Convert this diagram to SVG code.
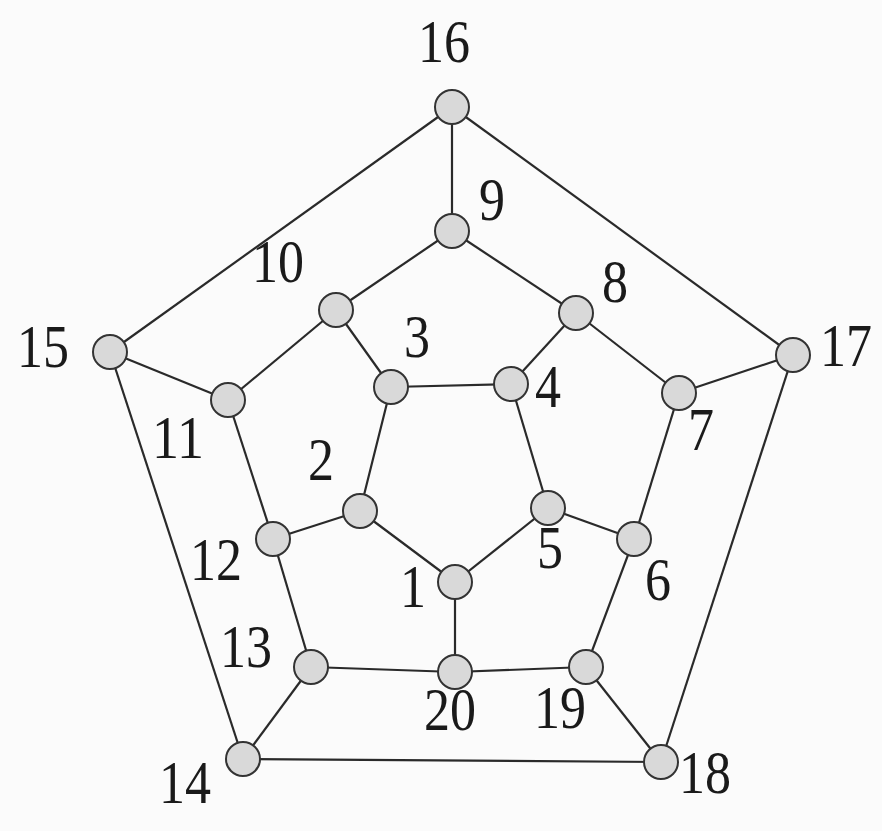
<svg xmlns="http://www.w3.org/2000/svg" width="882" height="831" viewBox="0 0 882 831">
<style>
.e{stroke:#2a2a2a;stroke-width:2.2;fill:none}
.n circle{fill:#d9d9d9;stroke:#333;stroke-width:2}
.n text{font-family:"Liberation Serif","Times New Roman",serif;font-size:62px;fill:#1a1a1a;text-anchor:middle}
</style>
<rect width="882" height="831" fill="#fbfbfb"/>
<g id="connectors">
<line class="e" x1="452" y1="107" x2="452" y2="231"/>
<line class="e" x1="452" y1="107" x2="110" y2="352"/>
<line class="e" x1="452" y1="107" x2="793" y2="355"/>
<line class="e" x1="452" y1="231" x2="336" y2="310"/>
<line class="e" x1="452" y1="231" x2="576" y2="313"/>
<line class="e" x1="336" y1="310" x2="391" y2="387"/>
<line class="e" x1="336" y1="310" x2="228" y2="400"/>
<line class="e" x1="576" y1="313" x2="511" y2="384"/>
<line class="e" x1="576" y1="313" x2="679" y2="393"/>
<line class="e" x1="391" y1="387" x2="511" y2="384"/>
<line class="e" x1="391" y1="387" x2="360" y2="511"/>
<line class="e" x1="511" y1="384" x2="548" y2="508"/>
<line class="e" x1="110" y1="352" x2="228" y2="400"/>
<line class="e" x1="110" y1="352" x2="243" y2="759"/>
<line class="e" x1="793" y1="355" x2="679" y2="393"/>
<line class="e" x1="793" y1="355" x2="661" y2="762"/>
<line class="e" x1="228" y1="400" x2="273" y2="539"/>
<line class="e" x1="679" y1="393" x2="634" y2="539"/>
<line class="e" x1="360" y1="511" x2="455" y2="582"/>
<line class="e" x1="360" y1="511" x2="273" y2="539"/>
<line class="e" x1="548" y1="508" x2="455" y2="582"/>
<line class="e" x1="548" y1="508" x2="634" y2="539"/>
<line class="e" x1="273" y1="539" x2="311" y2="667"/>
<line class="e" x1="634" y1="539" x2="586" y2="667"/>
<line class="e" x1="455" y1="582" x2="455" y2="672"/>
<line class="e" x1="311" y1="667" x2="455" y2="672"/>
<line class="e" x1="455" y1="672" x2="586" y2="667"/>
<line class="e" x1="311" y1="667" x2="243" y2="759"/>
<line class="e" x1="586" y1="667" x2="661" y2="762"/>
<line class="e" x1="243" y1="759" x2="661" y2="762"/>
</g>
<g id="node1" class="n"><circle cx="455" cy="582" r="17"/><text x="413" y="607" textLength="26" lengthAdjust="spacingAndGlyphs">1</text></g>
<g id="node2" class="n"><circle cx="360" cy="511" r="17"/><text x="321" y="480" textLength="26" lengthAdjust="spacingAndGlyphs">2</text></g>
<g id="node3" class="n"><circle cx="391" cy="387" r="17"/><text x="417" y="357" textLength="26" lengthAdjust="spacingAndGlyphs">3</text></g>
<g id="node4" class="n"><circle cx="511" cy="384" r="17"/><text x="548" y="407" textLength="26" lengthAdjust="spacingAndGlyphs">4</text></g>
<g id="node5" class="n"><circle cx="548" cy="508" r="17"/><text x="550" y="568" textLength="26" lengthAdjust="spacingAndGlyphs">5</text></g>
<g id="node6" class="n"><circle cx="634" cy="539" r="17"/><text x="658" y="600" textLength="26" lengthAdjust="spacingAndGlyphs">6</text></g>
<g id="node7" class="n"><circle cx="679" cy="393" r="17"/><text x="701" y="450" textLength="26" lengthAdjust="spacingAndGlyphs">7</text></g>
<g id="node8" class="n"><circle cx="576" cy="313" r="17"/><text x="615" y="302" textLength="26" lengthAdjust="spacingAndGlyphs">8</text></g>
<g id="node9" class="n"><circle cx="452" cy="231" r="17"/><text x="492" y="220" textLength="26" lengthAdjust="spacingAndGlyphs">9</text></g>
<g id="node10" class="n"><circle cx="336" cy="310" r="17"/><text x="278" y="282" textLength="52" lengthAdjust="spacingAndGlyphs">10</text></g>
<g id="node11" class="n"><circle cx="228" cy="400" r="17"/><text x="178" y="458" textLength="52" lengthAdjust="spacingAndGlyphs">11</text></g>
<g id="node12" class="n"><circle cx="273" cy="539" r="17"/><text x="216" y="580" textLength="52" lengthAdjust="spacingAndGlyphs">12</text></g>
<g id="node13" class="n"><circle cx="311" cy="667" r="17"/><text x="246" y="667" textLength="52" lengthAdjust="spacingAndGlyphs">13</text></g>
<g id="node14" class="n"><circle cx="243" cy="759" r="17"/><text x="185" y="803" textLength="52" lengthAdjust="spacingAndGlyphs">14</text></g>
<g id="node15" class="n"><circle cx="110" cy="352" r="17"/><text x="43" y="367" textLength="52" lengthAdjust="spacingAndGlyphs">15</text></g>
<g id="node16" class="n"><circle cx="452" cy="107" r="17"/><text x="444" y="62" textLength="52" lengthAdjust="spacingAndGlyphs">16</text></g>
<g id="node17" class="n"><circle cx="793" cy="355" r="17"/><text x="846" y="366" textLength="52" lengthAdjust="spacingAndGlyphs">17</text></g>
<g id="node18" class="n"><circle cx="661" cy="762" r="17"/><text x="705" y="793" textLength="52" lengthAdjust="spacingAndGlyphs">18</text></g>
<g id="node19" class="n"><circle cx="586" cy="667" r="17"/><text x="560" y="728" textLength="52" lengthAdjust="spacingAndGlyphs">19</text></g>
<g id="node20" class="n"><circle cx="455" cy="672" r="17"/><text x="450" y="730" textLength="52" lengthAdjust="spacingAndGlyphs">20</text></g>
</svg>
